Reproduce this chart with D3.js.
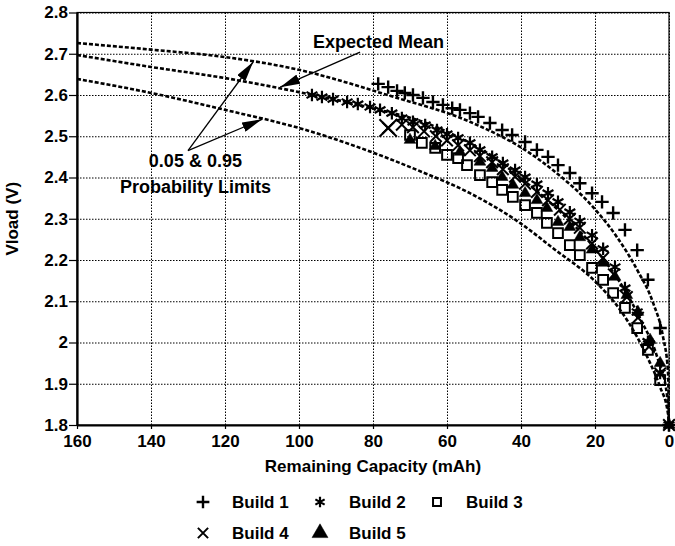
<!DOCTYPE html>
<html>
<head>
<meta charset="utf-8">
<script src="https://cdn.jsdelivr.net/npm/d3@7"></script>
<style>
  body { margin: 0; background: #fff; }
  svg { font-family: "Liberation Sans", Arial, sans-serif; }
  .axis text { font-size: 17px; font-weight: bold; fill: #000; }
  .grid line { stroke: #000; stroke-width: 1; stroke-dasharray: 1.5,1.5; }
  .grid .domain { display: none; }
</style>
</head>
<body>
<div id="chart"></div>
<script>
// tick labels
var xTicks = [160, 140, 120, 100, 80, 60, 40, 20, 0];
var yTicks = [2.8, 2.7, 2.6, 2.5, 2.4, 2.3, 2.2, 2.1, 2.0, 1.9, 1.8];
var yTickLabels = ["2.8", "2.7", "2.6", "2.5", "2.4", "2.3", "2.2", "2.1", "2", "1.9", "1.8"];

// model curves (remaining capacity mAh, Vload V)
var upperCap = [160, 140, 120, 100, 75.4, 53.8, 37.6, 31.4, 20.5, 14.1, 8.6, 4.3, 1.6, 0.3, 0];
var upperV = [2.726, 2.710, 2.692, 2.661, 2.598, 2.535, 2.459, 2.418, 2.328, 2.256, 2.176, 2.096, 2.013, 1.933, 1.8];
var meanCap = [160, 140, 120, 100, 81.6, 65, 53.8, 47.8, 40.3, 30, 19.5, 13.2, 7.8, 3.2, 0.5, 0];
var meanV = [2.697, 2.668, 2.641, 2.607, 2.571, 2.530, 2.483, 2.452, 2.400, 2.322, 2.222, 2.145, 2.058, 1.965, 1.870, 1.8];
var lowerCap = [160, 140, 120, 100, 68, 53.8, 40.3, 31.4, 19.5, 13.2, 8.6, 5.1, 2.4, 0.3, 0];
var lowerV = [2.639, 2.605, 2.564, 2.520, 2.418, 2.362, 2.290, 2.229, 2.144, 2.079, 2.013, 1.950, 1.892, 1.829, 1.8];

// measured builds
var build1Cap = [78.6, 75.9, 73.5, 71.4, 69.2, 66.5, 63.8, 61.1, 58.6, 56.5, 53.8, 51.6, 48.4, 45.1, 42.4, 38.9, 35.7, 32.7, 30.0, 26.8, 24.1, 20.8, 18.1, 15.1, 11.9, 8.6, 5.7, 2.4, 0];
var build1V = [2.627, 2.619, 2.610, 2.605, 2.600, 2.593, 2.583, 2.576, 2.568, 2.564, 2.556, 2.547, 2.532, 2.515, 2.503, 2.486, 2.467, 2.450, 2.430, 2.411, 2.386, 2.362, 2.341, 2.314, 2.273, 2.224, 2.152, 2.035, 1.8];

var build2Cap = [96.5, 93.8, 90.8, 87.0, 84.1, 80.8, 78.1, 74.9, 72.2, 69.2, 65.9, 62.7, 60.0, 57.0, 53.8, 51.1, 47.8, 44.9, 41.6, 38.9, 35.7, 32.7, 30.0, 26.8, 24.1, 20.8, 17.8, 14.6, 11.9, 8.6, 5.7, 2.4, 0];
var build2V = [2.600, 2.595, 2.590, 2.583, 2.578, 2.571, 2.564, 2.556, 2.544, 2.535, 2.527, 2.515, 2.505, 2.496, 2.484, 2.467, 2.450, 2.435, 2.418, 2.401, 2.384, 2.362, 2.341, 2.316, 2.294, 2.260, 2.227, 2.183, 2.132, 2.074, 2.002, 1.926, 1.8];

var build3Cap = [70.0, 66.8, 63.2, 60.0, 57.0, 54.6, 51.1, 47.8, 45.1, 42.2, 38.9, 35.7, 33.0, 30.0, 26.8, 24.1, 20.8, 17.8, 15.1, 11.9, 8.6, 5.7, 2.4];
var build3V = [2.503, 2.484, 2.472, 2.455, 2.447, 2.430, 2.406, 2.389, 2.370, 2.353, 2.333, 2.314, 2.290, 2.265, 2.236, 2.212, 2.181, 2.152, 2.120, 2.084, 2.035, 1.982, 1.909];

var build4Cap = [75.9, 72.2, 69.2, 66.2, 63.0, 60.0, 57.0, 53.8, 51.1, 47.8, 44.9, 41.6, 38.9, 35.7, 32.7, 29.5, 26.8, 24.1, 20.8, 17.8, 14.9, 11.4, 8.4, 5.4, 2.4, 0];
var build4V = [2.520, 2.528, 2.522, 2.512, 2.500, 2.490, 2.478, 2.466, 2.452, 2.437, 2.420, 2.402, 2.385, 2.365, 2.345, 2.322, 2.300, 2.278, 2.240, 2.205, 2.165, 2.110, 2.060, 1.990, 1.925, 1.8];

var build5Cap = [70.0, 63.2, 56.5, 51.1, 47.8, 45.1, 42.2, 38.9, 35.7, 33.0, 30.0, 26.8, 24.1, 20.8, 17.8, 14.6, 11.4, 8.4, 5.1, 2.4, 0];
var build5V = [2.491, 2.476, 2.462, 2.438, 2.423, 2.401, 2.382, 2.362, 2.345, 2.326, 2.292, 2.280, 2.255, 2.225, 2.193, 2.159, 2.115, 2.074, 2.006, 1.950, 1.8];

var buildNames = ["Build 1", "Build 2", "Build 3", "Build 4", "Build 5"];

var W = 675, H = 546;
var margin = {top: 12.5, right: 6, bottom: 121, left: 77};
var width = W - margin.left - margin.right;
var height = H - margin.top - margin.bottom;

var svg = d3.select("#chart").append("svg")
	.attr("width", W)
	.attr("height", H);

var x = d3.scaleLinear().domain([160, 0]).range([0, width]);
var y = d3.scaleLinear().domain([1.8, 2.8]).range([height, 0]);

var g = svg.append("g")
	.attr("transform", "translate(" + margin.left + "," + margin.top + ")");

var defs = svg.append("defs");
defs.append("clipPath").attr("id", "plot-clip")
	.append("rect").attr("x", 0).attr("y", 0).attr("width", width + 1).attr("height", height);

// grid
g.append("g").attr("class", "grid")
	.call(d3.axisLeft(y).tickValues(yTicks).tickSize(-width).tickFormat(""));
g.append("g").attr("class", "grid")
	.attr("transform", "translate(0," + height + ")")
	.call(d3.axisBottom(x).tickValues(xTicks).tickSize(-height).tickFormat(""));

// frame
g.append("rect").attr("width", width).attr("height", height)
	.attr("fill", "none").attr("stroke", "#000").attr("stroke-width", 1.2);

// axes
var yAxis = g.append("g").attr("class", "axis")
	.call(d3.axisLeft(y).tickValues(yTicks).tickSizeInner(8).tickSizeOuter(0).tickPadding(1)
		.tickFormat(function (d, i) { return yTickLabels[i]; }));
yAxis.select(".domain").attr("stroke-width", 2.2);
yAxis.selectAll(".tick line").attr("stroke-width", 1.2);

var xAxis = g.append("g").attr("class", "axis")
	.attr("transform", "translate(0," + height + ")")
	.call(d3.axisBottom(x).tickValues(xTicks).tickSizeInner(4).tickSizeOuter(0).tickPadding(6)
		.tickFormat(d3.format("d")));
xAxis.select(".domain").attr("stroke-width", 2.2);
xAxis.selectAll(".tick line").attr("stroke-width", 1.2);

// axis titles
svg.append("text")
	.attr("x", margin.left + width / 2)
	.attr("y", 472)
	.attr("text-anchor", "middle")
	.style("font-size", "17px").style("font-weight", "bold")
	.text("Remaining Capacity (mAh)");

svg.append("text")
	.attr("transform", "translate(18," + (margin.top + height / 2) + ") rotate(-90)")
	.attr("text-anchor", "middle")
	.style("font-size", "17px").style("font-weight", "bold")
	.text("Vload (V)");

// curves
function zip(a, b) {
	return a.map(function (d, i) { return [d, b[i]]; });
}
var line = d3.line()
	.x(function (d) { return x(d[0]); })
	.y(function (d) { return y(d[1]); })
	.curve(d3.curveMonotoneX);

var curves = g.append("g").attr("clip-path", "url(#plot-clip)");
[zip(upperCap, upperV), zip(meanCap, meanV), zip(lowerCap, lowerV)].forEach(function (c) {
	curves.append("path")
		.datum(c)
		.attr("d", line)
		.attr("fill", "none")
		.attr("stroke", "#000")
		.attr("stroke-width", 2.6)
		.attr("stroke-dasharray", "4,2");
});

// markers
var symPlus = d3.symbolPlus || d3.symbolCross;
var symAst = d3.symbolAsterisk || d3.symbolStar;
var symSq = d3.symbolSquare2 || d3.symbolSquare;
var symTimes = d3.symbolTimes || d3.symbolCross;

var builds = [
	{name: buildNames[0], pts: zip(build1Cap, build1V), type: symPlus, size: 60, sw: 2.4, fill: false},
	{name: buildNames[1], pts: zip(build2Cap, build2V), type: symAst, size: 110, sw: 2.2, fill: false},
	{name: buildNames[2], pts: zip(build3Cap, build3V), type: symSq, size: 120, sw: 2, fill: false},
	{name: buildNames[3], pts: zip(build4Cap, build4V), type: symTimes, size: 90, sw: 2, fill: false},
	{name: buildNames[4], pts: zip(build5Cap, build5V), type: d3.symbolTriangle, size: 60, sw: 0.5, fill: true}
];

function styleSym(sel, b) {
	sel.attr("fill", b.fill ? "#000" : "none")
		.attr("stroke", "#000")
		.attr("stroke-width", b.sw);
}

var marks = g.append("g");
builds.forEach(function (b) {
	var s = marks.append("g").selectAll("path")
		.data(b.pts)
		.enter().append("path")
		.attr("transform", function (d) { return "translate(" + x(d[0]) + "," + y(d[1]) + ")"; })
		.attr("d", d3.symbol().type(b.type).size(b.size));
	styleSym(s, b);
});
// the large single Build 4 cross
marks.append("path")
	.attr("transform", "translate(" + x(build4Cap[0]) + "," + y(build4V[0]) + ")")
	.attr("d", d3.symbol().type(symTimes).size(200))
	.attr("fill", "none").attr("stroke", "#000").attr("stroke-width", 2);

// annotations (in data units)
defs.append("marker")
	.attr("id", "arrow").attr("viewBox", "0 0 20 10")
	.attr("refX", 20).attr("refY", 5)
	.attr("markerWidth", 20).attr("markerHeight", 10)
	.attr("markerUnits", "userSpaceOnUse")
	.attr("orient", "auto")
	.append("path").attr("d", "M0,0L20,5L0,10z").attr("fill", "#000");

var arrows = [
	{from: [83.5, 2.704], to: [105.1, 2.619]},
	{from: [130, 2.465], to: [112.4, 2.680]},
	{from: [130, 2.465], to: [110, 2.541]}
];
arrows.forEach(function (a) {
	g.append("line")
		.attr("x1", x(a.from[0])).attr("y1", y(a.from[1]))
		.attr("x2", x(a.to[0])).attr("y2", y(a.to[1]))
		.attr("stroke", "#000").attr("stroke-width", 1.3)
		.attr("marker-end", "url(#arrow)");
});

var notes = [
	{text: "Expected Mean", at: [78.5, 2.714]},
	{text: "0.05 & 0.95", at: [128, 2.425]},
	{text: "Probability Limits", at: [128, 2.362]}
];
notes.forEach(function (n) {
	g.append("text")
		.attr("x", x(n.at[0])).attr("y", y(n.at[1]))
		.attr("text-anchor", "middle")
		.style("font-size", "18px").style("font-weight", "bold")
		.text(n.text);
});

// legend
var legendPos = [[203, 502], [320, 502], [437, 502], [203, 533], [320, 533]];
var legendSize = [55, 80, 80, 70, 110];
builds.forEach(function (b, i) {
	var p = legendPos[i];
	var s = svg.append("path")
		.attr("transform", "translate(" + p[0] + "," + p[1] + ")")
		.attr("d", d3.symbol().type(b.type).size(legendSize[i]));
	styleSym(s, b);
	svg.append("text")
		.attr("x", p[0] + 29).attr("y", p[1] + 6)
		.style("font-size", "17px").style("font-weight", "bold")
		.text(b.name);
});
</script>
</body>
</html>
